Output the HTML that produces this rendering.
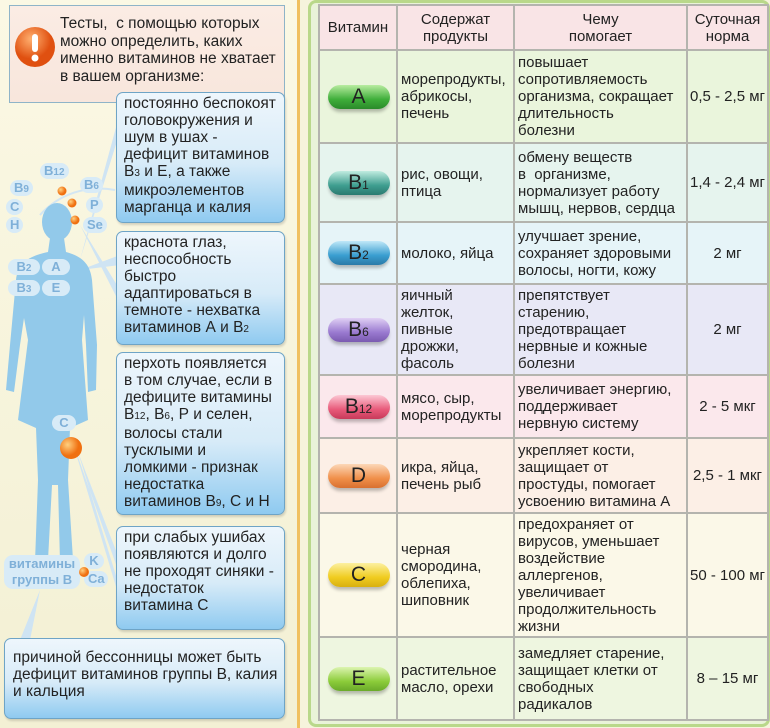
<!DOCTYPE html>
<html><head><meta charset="utf-8"><style>
*{margin:0;padding:0;box-sizing:border-box}
body{width:770px;height:728px;overflow:hidden;background:#f6f3dc;font-family:"Liberation Sans",sans-serif;color:#222;position:relative}
.abs{position:absolute}
.lp{left:0;top:0;width:300px;height:728px;background:linear-gradient(#fbf8e4,#f3f0d4);border-right:3px solid #f0c060}
.top{left:9px;top:5px;width:276px;height:98px;background:linear-gradient(#fbece4,#f8e6dc);border:1.5px solid #8fb4c8}
.top p{position:absolute;left:50px;top:9px;font-size:15.5px;line-height:17.5px;color:#222;white-space:nowrap}
.bb{background:linear-gradient(#eef6fc 0%,#d7ebf8 55%,#8fcaf0 100%);border:1.5px solid #6ea4c6;border-radius:7px;font-size:15.5px;line-height:17px;padding:2px 4px 0 7px;box-shadow:1px 2px 2px rgba(0,0,0,.15);white-space:nowrap}
.rp{left:308px;top:0;width:462px;height:727px;background:#e9f3d8;border:3px solid #b9d88a;border-radius:8px}
table{position:absolute;left:318px;top:4px;width:449px;border-collapse:collapse;table-layout:fixed}
td{border:2px solid #b4b4ae;padding:0 2px 0 3px;vertical-align:middle;font-size:15px;line-height:17px;white-space:nowrap;font-family:"Liberation Sans",sans-serif}
td.c{text-align:center;padding:0}
.pill{width:62px;height:24px;border-radius:12px;margin:0 auto;text-align:center;font-size:21px;line-height:24px;color:#222;box-shadow:0 4px 3px -1px rgba(0,0,0,.25)}
.pill sub{font-size:12px;vertical-align:baseline}
.tag{position:absolute;background:#d8ebf7;border-radius:9px;color:#7fb0d8;font-size:13px;font-weight:bold;text-align:center;line-height:16px;height:16px;padding:0 4px}
sub.s{font-size:10px;vertical-align:baseline}
</style></head><body>
<div class="abs lp"></div>
<svg class="abs" style="left:0;top:0" width="300" height="728">
<path d="M40 215 A80 80 0 0 1 115 190" stroke="#d3e6f3" stroke-width="2" fill="none"/>
<path d="M80 260 L118 120 L122 125 Z M80 270 L120 255 L120 265Z M72 440 L120 600 L125 590 Z M78 452 L135 600 L125 605Z M40 590 L20 640 L30 640Z" fill="#cfe4f3"/>
<path d="M80 225 L120 290 L118 300 Z" fill="#cfe4f3"/>
<g fill="#92c9ea">
<ellipse cx="57" cy="222" rx="15" ry="19"/>
<path d="M50 238 L64 238 L66 252 C80 256 90 262 92 280 L97 345 L96 390 L88 392 L86 345 L84 315 L82 340 L88 420 L70 428 L68 480 L73 560 L60 562 L58 485 L52 485 L48 560 L35 562 L38 480 L36 428 L18 420 L28 340 L24 318 L20 345 L14 392 L6 390 L10 345 L16 280 C18 262 30 256 48 252 Z"/>
</g>
</svg>
<div class="tag" style="left:40px;top:163px">B<sub class="s">12</sub></div>
<div class="tag" style="left:10px;top:180px">B<sub class="s">9</sub></div>
<div class="tag" style="left:80px;top:177px">B<sub class="s">6</sub></div>
<div class="tag" style="left:6px;top:199px">C</div>
<div class="tag" style="left:86px;top:197px">P</div>
<div class="tag" style="left:6px;top:217px">H</div>
<div class="tag" style="left:83px;top:217px">Se</div>
<div class="tag" style="left:8px;top:259px;width:32px">B<sub class="s">2</sub></div>
<div class="tag" style="left:42px;top:259px;width:28px">A</div>
<div class="tag" style="left:8px;top:280px;width:32px">B<sub class="s">3</sub></div>
<div class="tag" style="left:42px;top:280px;width:28px">E</div>
<div class="tag" style="left:52px;top:415px;width:24px">C</div>
<div class="tag" style="left:4px;top:555px;width:76px;height:34px;line-height:16px;padding-top:1px;font-size:13px">витамины<br>группы В</div>
<div class="tag" style="left:84px;top:553px;width:20px">K</div>
<div class="tag" style="left:84px;top:571px;width:24px">Ca</div>
<svg class="abs" style="left:0;top:0" width="300" height="728">
<defs><radialGradient id="o" cx=".35" cy=".35"><stop offset="0" stop-color="#ffd080"/><stop offset="1" stop-color="#f07010"/></radialGradient></defs>
<circle cx="62" cy="191" r="4.5" fill="url(#o)"/><circle cx="72" cy="203" r="4.5" fill="url(#o)"/><circle cx="75" cy="220" r="4.5" fill="url(#o)"/>
<circle cx="71" cy="448" r="11" fill="url(#o)"/><circle cx="84" cy="572" r="5" fill="url(#o)"/>
</svg>
<div class="abs top"><p>Тесты,&nbsp; с помощью которых<br>можно определить, каких<br>именно витаминов не хватает<br>в вашем организме:</p>
<svg style="position:absolute;left:4px;top:20px" width="42" height="42"><defs><radialGradient id="ex" cx=".4" cy=".3"><stop offset="0" stop-color="#ffb070"/><stop offset="1" stop-color="#e05010"/></radialGradient></defs><circle cx="21" cy="21" r="20" fill="url(#ex)"/><rect x="18" y="8" width="6" height="18" rx="3" fill="#fff"/><circle cx="21" cy="32" r="3.5" fill="#fff"/></svg></div>
<div class="abs bb" style="left:116px;top:92px;width:169px;height:131px">постоянно беспокоят<br>головокружения и<br>шум в ушах -<br>дефицит витаминов<br>В<sub class="s">3</sub> и Е, а также<br>микроэлементов<br>марганца и калия</div>
<div class="abs bb" style="left:116px;top:231px;width:169px;height:114px">краснота глаз,<br>неспособность<br>быстро<br>адаптироваться в<br>темноте - нехватка<br>витаминов А и В<sub class="s">2</sub></div>
<div class="abs bb" style="left:116px;top:352px;width:169px;height:163px">перхоть появляется<br>в том случае, если в<br>дефиците витамины<br>В<sub class="s">12</sub>, В<sub class="s">6</sub>, Р и селен,<br>волосы стали<br>тусклыми и<br>ломкими - признак<br>недостатка<br>витаминов В<sub class="s">9</sub>, С и Н</div>
<div class="abs bb" style="left:116px;top:526px;width:169px;height:104px">при слабых ушибах<br>появляются и долго<br>не проходят синяки -<br>недостаток<br>витамина С</div>
<div class="abs bb" style="left:4px;top:638px;width:281px;height:81px;padding-top:10px;padding-left:8px">причиной бессонницы может быть<br>дефицит витаминов группы В, калия<br>и кальция</div>
<div class="abs rp"></div>
<table>
<colgroup><col style="width:78px"><col style="width:117px"><col style="width:173px"><col style="width:81px"></colgroup>
<tr style="height:45px;background:#f9e4e6"><td class="c">Витамин</td><td class="c">Содержат<br>продукты</td><td class="c">Чему<br>помогает</td><td class="c">Суточная<br>норма</td></tr>
<tr style="height:93px;background:#eaf5dc"><td><div class="pill" style="background:linear-gradient(#b8eca0,#3fae3a 60%,#2a8a2a)">A</div></td><td>морепродукты,<br>абрикосы,<br>печень</td><td>повышает<br>сопротивляемость<br>организма, сокращает<br>длительность<br>болезни</td><td class="c">0,5 - 2,5 мг</td></tr>
<tr style="height:79px;background:#e6f4ee"><td><div class="pill" style="background:linear-gradient(#c0ece0,#3f9e90 60%,#2a7a70)">B<sub>1</sub></div></td><td>рис, овощи,<br>птица</td><td>обмену веществ<br>в&nbsp; организме,<br>нормализует работу<br>мышц, нервов, сердца</td><td class="c">1,4 - 2,4 мг</td></tr>
<tr style="height:62px;background:#e6f4f8"><td><div class="pill" style="background:linear-gradient(#c0e8f8,#3a9ed0 60%,#2a7aa8)">B<sub>2</sub></div></td><td>молоко, яйца</td><td>улучшает зрение,<br>сохраняет здоровыми<br>волосы, ногти, кожу</td><td class="c">2 мг</td></tr>
<tr style="height:91px;background:#e8e8f6"><td><div class="pill" style="background:linear-gradient(#e0d0f4,#9a7ad0 60%,#7a5ab0)">B<sub>6</sub></div></td><td>яичный<br>желток,<br>пивные<br>дрожжи,<br>фасоль</td><td>препятствует<br>старению,<br>предотвращает<br>нервные и кожные<br>болезни</td><td class="c">2 мг</td></tr>
<tr style="height:63px;background:#fbe8ec"><td><div class="pill" style="background:linear-gradient(#fcc8d4,#e85a7a 60%,#c83a5a)">B<sub>12</sub></div></td><td>мясо, сыр,<br>морепродукты</td><td>увеличивает энергию,<br>поддерживает<br>нервную систему</td><td class="c">2 - 5 мкг</td></tr>
<tr style="height:75px;background:#fcefe6"><td><div class="pill" style="background:linear-gradient(#fcd8b8,#f0904a 60%,#d87030)">D</div></td><td>икра, яйца,<br>печень рыб</td><td>укрепляет кости,<br>защищает от<br>простуды, помогает<br>усвоению витамина А</td><td class="c">2,5 - 1 мкг</td></tr>
<tr style="height:124px;background:#fbf8e8"><td><div class="pill" style="background:linear-gradient(#fcf0a0,#f0cc20 60%,#d8b010)">C</div></td><td>черная<br>смородина,<br>облепиха,<br>шиповник</td><td>предохраняет от<br>вирусов, уменьшает<br>воздействие<br>аллергенов,<br>увеличивает<br>продолжительность<br>жизни</td><td class="c">50 - 100 мг</td></tr>
<tr style="height:83px;background:#eef6e0"><td><div class="pill" style="background:linear-gradient(#dcf4b0,#8ccc3a 60%,#6aaa2a)">E</div></td><td>растительное<br>масло, орехи</td><td>замедляет старение,<br>защищает клетки от<br>свободных<br>радикалов</td><td class="c">8 – 15 мг</td></tr>
</table>
</body></html>
